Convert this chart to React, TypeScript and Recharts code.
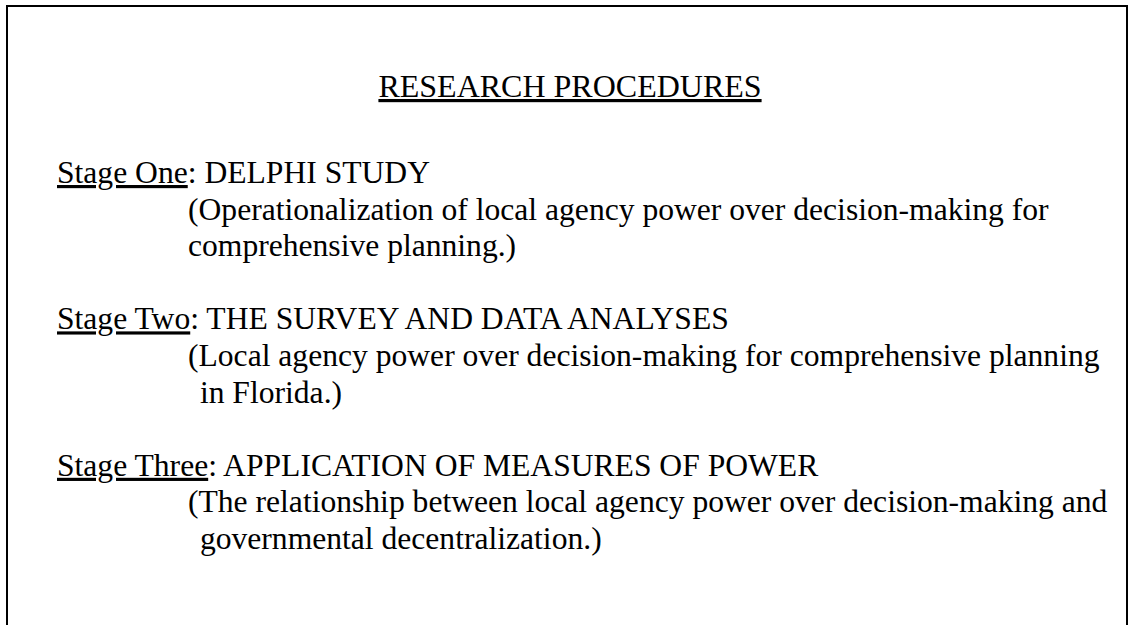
import { ScatterChart, Scatter, XAxis, YAxis, Customized } from "recharts"

const W = 1129
const H = 625

const title = "RESEARCH PROCEDURES"
const stageLabels = ["Stage One", "Stage Two", "Stage Three"]
const stageHeadings = ["DELPHI STUDY", "THE SURVEY AND DATA ANALYSES", "APPLICATION OF MEASURES OF POWER"]
const stageNotes = [
  ["(Operationalization of local agency power over decision-making for", "comprehensive planning.)"],
  ["(Local agency power over decision-making for comprehensive planning", " in Florida.)"],
  ["(The relationship between local agency power over decision-making and", " governmental decentralization.)"],
]

type Row = { level: number; line: number; kind: "title" | "stage" | "note"; label?: string; text: string }

// one row per printed line; level = indent step, line = line number (blank line between stages)
const rows: Row[] = [{ level: 0, line: -2.35, kind: "title", text: title }]
stageLabels.forEach((label, i) => {
  rows.push({ level: 0, line: i * 4, kind: "stage", label, text: ": " + stageHeadings[i] })
  stageNotes[i].forEach((t, j) => rows.push({ level: 1, line: i * 4 + 1 + j, kind: "note", text: t }))
})

const FONT = "'Liberation Serif', 'Times New Roman', serif"
const BOX = { x: 7, y: 6, right: 1127 }

function LineText(props: any) {
  const { cx, cy, payload } = props
  const common = { fontFamily: FONT, fontSize: 31.6, fill: "#000", style: { whiteSpace: "pre" as const } }
  if (payload.kind === "title") {
    return (
      <text {...common} fontSize={32} x={(BOX.x + BOX.right) / 2 + 3} y={cy} textAnchor="middle" textDecoration="underline">
        {payload.text}
      </text>
    )
  }
  if (payload.kind === "stage") {
    return (
      <text {...common} x={cx} y={cy}>
        <tspan textDecoration="underline">{payload.label}</tspan>
        <tspan>{payload.text}</tspan>
      </text>
    )
  }
  const lead = payload.text.startsWith(" ") ? 4 : 0
  return (
    <text {...common} x={cx + lead} y={cy}>
      {payload.text}
    </text>
  )
}

function Frame() {
  return (
    <rect
      x={BOX.x}
      y={BOX.y}
      width={BOX.right - BOX.x}
      height={H}
      fill="none"
      stroke="#000"
      strokeWidth={2}
    />
  )
}

export default function App() {
  return (
    <div style={{ position: "absolute", left: 0, top: 0, background: "#fff" }}>
      <ScatterChart width={W} height={H} margin={{ top: 0, right: 0, bottom: 0, left: 0 }}>
        <XAxis type="number" dataKey="level" domain={[-57 / 131, (W - 57) / 131]} allowDataOverflow hide />
        <YAxis type="number" dataKey="line" domain={[-5, (H - 183) / 36.6]} allowDataOverflow reversed hide />
        <Customized component={Frame} />
        <Scatter data={rows} shape={LineText} isAnimationActive={false} />
      </ScatterChart>
    </div>
  )
}
